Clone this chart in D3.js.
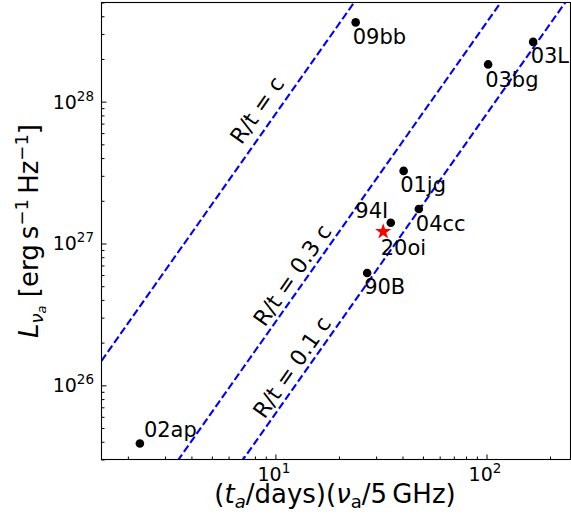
<!DOCTYPE html>
<html><head><meta charset="utf-8">
<script src="https://cdn.jsdelivr.net/npm/d3@7"></script>
<style>
body{margin:0;background:#fff}
svg{display:block}
text{font-family:"DejaVu Sans",sans-serif;fill:#000}
</style>
</head><body>
<svg id="chart" width="571" height="525"></svg>
<script>
// ---------- data ----------
const names = ["09bb", "03bg", "03L", "01jg", "04cc", "94I", "90B", "02ap"];
const times = [24.0, 101.8, 166.3, 40.5, 47.8, 35.2, 27.2, 2.28];          // (t_a/days)(nu_a/5GHz)
const lums  = [3.62e28, 1.83e28, 2.64e28, 3.25e27, 1.75e27, 1.40e27, 6.2e26, 3.89e25];
const starNames = ["20oi"];
const starTimes = [32.4];
const starLums  = [1.21e27];
const lineLabels = ["R/t = c", "R/t = 0.3 c", "R/t = 0.1 c"];
const lineTimeAt1e27 = [3.70, 18.3, 37.0];   // t where each line crosses L = 1e27
const lineSlope = 19 / 9;
const lineLabelLum = [8.7e27, 5.97e26, 1.34e26];
const xDomain = [1.5, 250];
const yDomain = [3.0e25, 5.0e28];
const xMajorTicks = [10, 100];
const xTickExp = ["1", "2"];
const yMajorTicks = [1e26, 1e27, 1e28];
const yTickExp = ["26", "27", "28"];

// ---------- styles / layout ----------
const labelStyle = {          // label offset relative to the point (px)
  "09bb": {dx: -3, dy: 22, anchor: "start"},
  "03bg": {dx: -3, dy: 22.5, anchor: "start"},
  "03L":  {dx: -2.5, dy: 21.5, anchor: "start"},
  "01jg": {dx: -3.5, dy: 21, anchor: "start"},
  "04cc": {dx: -3, dy: 22, anchor: "start"},
  "94I":  {dx: -2.5, dy: -4.7, anchor: "end"},
  "90B":  {dx: -3, dy: 21.3, anchor: "start"},
  "02ap": {dx: 4, dy: -6.3, anchor: "start"},
  "20oi": {dx: -2.5, dy: 23.3, anchor: "start"}
};
const lineLabelDx = [-21, -16, -16];

const svg = d3.select("#chart");
const L = 101.5, R = 570.5, T = 2.5, B = 459.5;

const x = d3.scaleLog().domain(xDomain).range([L, R]);
const y = d3.scaleLog().domain(yDomain).range([B, T]);

svg.append("defs").append("clipPath").attr("id", "clip")
  .append("rect").attr("x", L).attr("y", T).attr("width", R - L).attr("height", B - T);

function minorTicks(domain) {
  const out = [];
  for (let e = Math.floor(Math.log10(domain[0])); e <= Math.ceil(Math.log10(domain[1])); e++) {
    for (let m = 2; m <= 9; m++) {
      const v = m * Math.pow(10, e);
      if (v >= domain[0] && v <= domain[1]) out.push(v);
    }
  }
  return out;
}

const gx = svg.append("g").attr("transform", `translate(0,${B})`);
gx.call(d3.axisBottom(x).tickValues(minorTicks(xDomain)).tickSize(-3).tickFormat(""));
gx.append("g").call(d3.axisBottom(x).tickValues(xMajorTicks).tickSize(-5).tickFormat(""));
gx.selectAll(".domain").remove();
gx.selectAll("line").attr("stroke", "#000").attr("stroke-width", 1);

const gy = svg.append("g").attr("transform", `translate(${L},0)`);
gy.call(d3.axisLeft(y).tickValues(minorTicks(yDomain)).tickSize(-3).tickFormat(""));
gy.append("g").call(d3.axisLeft(y).tickValues(yMajorTicks).tickSize(-5).tickFormat(""));
gy.selectAll(".domain").remove();
gy.selectAll("line").attr("stroke", "#000").attr("stroke-width", 1);

// tick labels
xMajorTicks.forEach((v, i) => {
  const t = svg.append("text").attr("x", x(v) - 1.5).attr("y", 480.5)
    .attr("text-anchor", "middle").style("font-size", "19px");
  t.append("tspan").text("10");
  t.append("tspan").attr("dy", -8).style("font-size", "13.5px").text(xTickExp[i]);
});
yMajorTicks.forEach((v, i) => {
  const t = svg.append("text").attr("x", 94).attr("y", y(v) + 7)
    .attr("text-anchor", "end").style("font-size", "19px");
  t.append("tspan").text("10");
  t.append("tspan").attr("dy", -8).style("font-size", "13.5px").text(yTickExp[i]);
});

// dashed lines
const plot = svg.append("g").attr("clip-path", "url(#clip)");
const lineGen = d3.line().x(d => x(d[0])).y(d => y(d[1]));
lineTimeAt1e27.forEach((t0, i) => {
  const pts = xDomain.map(t => [t, 1e27 * Math.pow(t / t0, lineSlope)]);
  plot.append("path").attr("d", lineGen(pts))
    .attr("fill", "none").attr("stroke", "#0000ff")
    .attr("stroke-width", 2.1).attr("stroke-dasharray", "7.7,3.3");
});

// line labels
lineLabels.forEach((lab, i) => {
  const lum = lineLabelLum[i];
  const t = lineTimeAt1e27[i] * Math.pow(lum / 1e27, 1 / lineSlope);
  const px = x(t) + lineLabelDx[i], py = y(lum);
  svg.append("text")
    .attr("transform", `translate(${px},${py}) rotate(-55)`)
    .attr("text-anchor", "middle").attr("dy", 7.5)
    .style("font-size", "22px").text(lab);
});

// points
names.forEach((n, i) => {
  svg.append("circle").attr("cx", x(times[i])).attr("cy", y(lums[i])).attr("r", 4.3).attr("fill", "#000");
});
starNames.forEach((n, i) => {
  svg.append("path").attr("d", d3.symbol().type(d3.symbolStar).size(81)())
    .attr("transform", `translate(${x(starTimes[i])},${y(starLums[i])})`)
    .attr("fill", "#ff0000");
});

// point labels
function addLabel(n, t, l) {
  const s = labelStyle[n];
  svg.append("text").attr("x", x(t) + s.dx).attr("y", y(l) + s.dy)
    .attr("text-anchor", s.anchor).style("font-size", "21px").text(n);
}
names.forEach((n, i) => addLabel(n, times[i], lums[i]));
starNames.forEach((n, i) => addLabel(n, starTimes[i], starLums[i]));

// frame
svg.append("rect").attr("x", L).attr("y", T).attr("width", R - L).attr("height", B - T)
  .attr("fill", "none").attr("stroke", "#000").attr("stroke-width", 1.1);

// x label
const xl = svg.append("text").attr("x", 335).attr("y", 503)
  .attr("text-anchor", "middle").style("font-size", "26px");
xl.append("tspan").text("(");
xl.append("tspan").style("font-style", "italic").text("t");
xl.append("tspan").attr("dy", 5).style("font-size", "18px").style("font-style", "italic").text("a");
xl.append("tspan").attr("dy", -5).text("/days)(");
xl.append("tspan").style("font-style", "italic").text("ν");
xl.append("tspan").attr("dy", 5).style("font-size", "18px").text("a");
xl.append("tspan").attr("dy", -5).text("/5\u2009GHz)");

// y label
const yl = svg.append("text").attr("transform", `translate(38,${(T + B) / 2}) rotate(-90)`)
  .attr("text-anchor", "middle").style("font-size", "26px");
yl.append("tspan").style("font-style", "italic").text("L");
yl.append("tspan").attr("dy", 5).style("font-size", "18px").style("font-style", "italic").text("ν");
yl.append("tspan").attr("dy", 3).style("font-size", "13px").style("font-style", "italic").text("a");
yl.append("tspan").attr("dy", -8).text(" [erg\u2009s");
yl.append("tspan").attr("dy", -10).style("font-size", "18px").text("\u22121");
yl.append("tspan").attr("dy", 10).text("\u2009Hz");
yl.append("tspan").attr("dy", -10).style("font-size", "18px").text("\u22121");
yl.append("tspan").attr("dy", 10).text("]");
</script>
</body></html>
